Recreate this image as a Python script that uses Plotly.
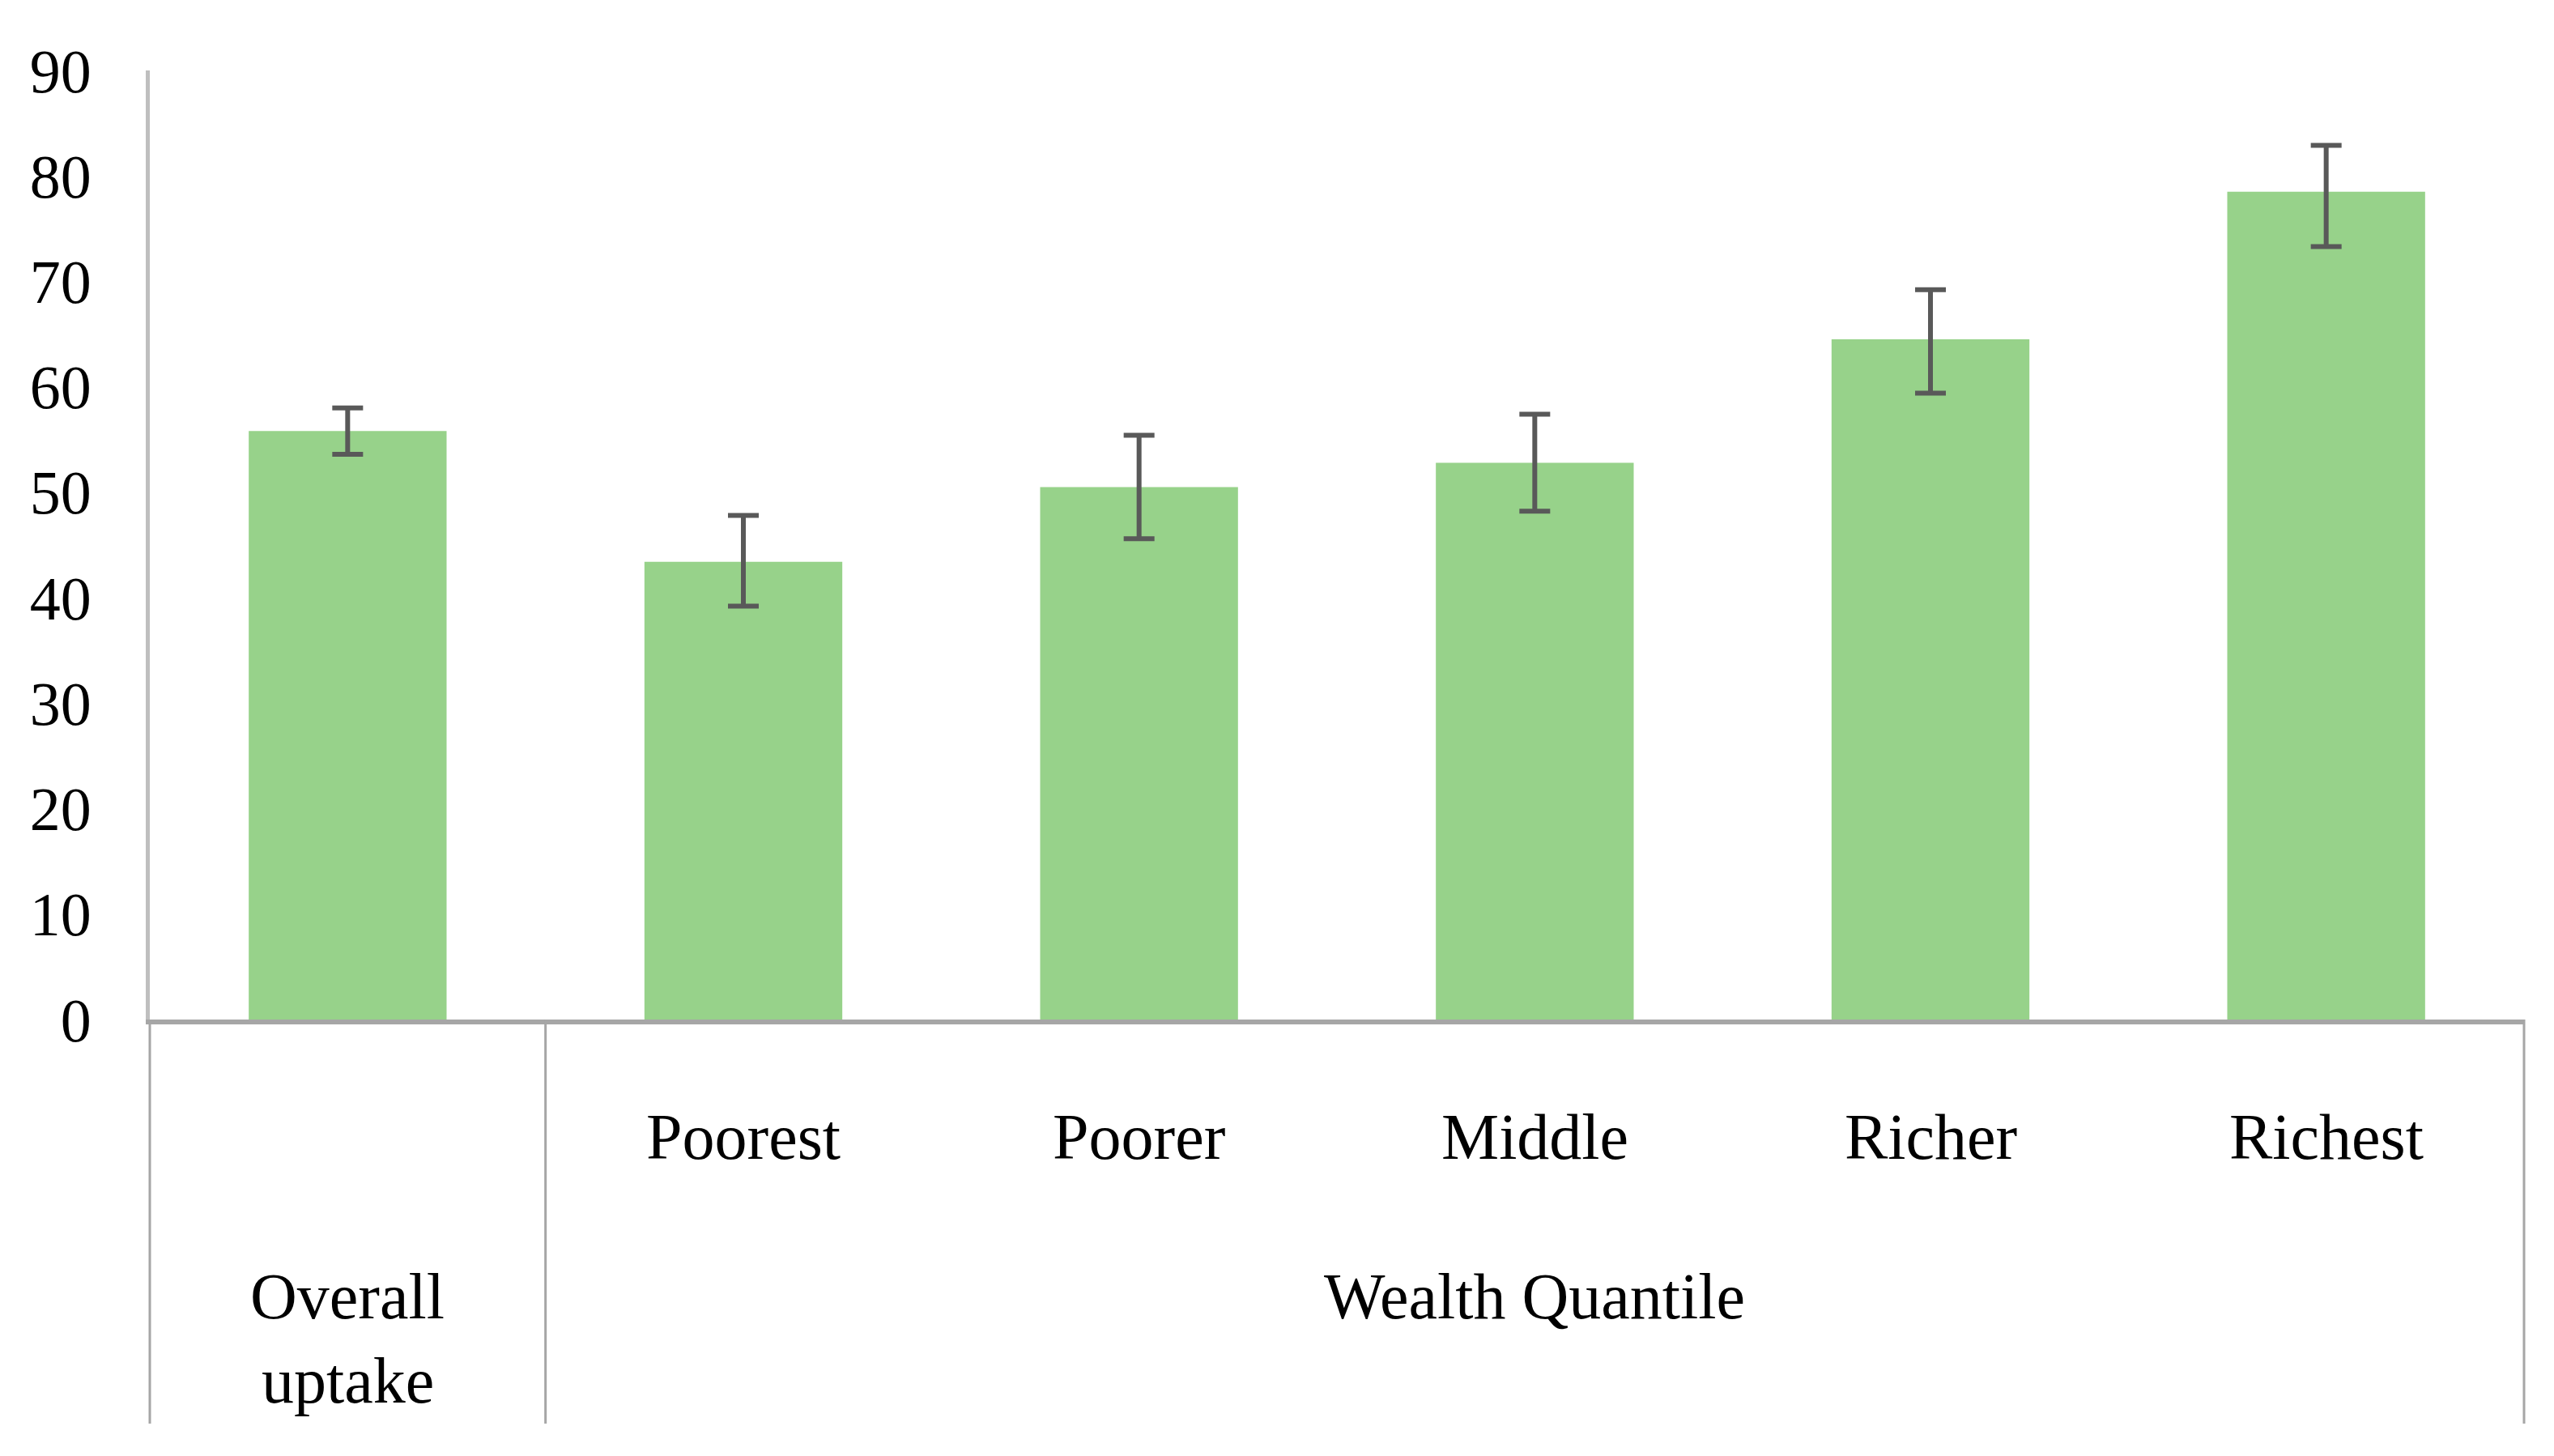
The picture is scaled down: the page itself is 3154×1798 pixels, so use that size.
import plotly.graph_objects as go

# ---- data ----
categories = ["Overall uptake", "Poorest", "Poorer", "Middle", "Richer", "Richest"]
tick_labels = ["", "Poorest", "Poorer", "Middle", "Richer", "Richest"]
uptake = [55.8, 43.4, 50.5, 52.8, 64.5, 78.5]
ci_upper = [58.0, 47.8, 55.4, 57.4, 69.2, 82.9]
ci_lower = [53.6, 39.2, 45.6, 48.2, 59.4, 73.3]
group_labels = ["Overall", "uptake", "Wealth Quantile"]
y_ticks = [0, 10, 20, 30, 40, 50, 60, 70, 80, 90]

err_plus = [u - v for u, v in zip(ci_upper, uptake)]
err_minus = [v - l for v, l in zip(uptake, ci_lower)]

W, H = 3154, 1798
OFF = 8  # page body margin
ML, MR, MT = 185 - OFF, 37 + OFF, 87 - OFF
BASE = 1259 - OFF
MB = H - BASE
plot_h = BASE - MT
FONT = "Liberation Serif"
FS = 80


def py(yfull):
    return -((yfull - OFF) - BASE) / plot_h


fig = go.Figure()
fig.add_trace(go.Bar(
    x=categories, y=uptake, width=0.5,
    marker=dict(color="#97d28a", line=dict(width=0)),
    error_y=dict(type="data", symmetric=False, array=err_plus, arrayminus=err_minus,
                 color="#595959", thickness=6, width=19),
    showlegend=False,
))

# category table lines
line_col = "#a6a6a6"
for xp in [0, 1 / 6, 1]:
    fig.add_shape(type="line", xref="paper", yref="paper", x0=xp, x1=xp,
                  y0=0, y1=py(1758), line=dict(color=line_col, width=3))

tf = dict(family=FONT, size=FS, color="black")
for c, t in zip(categories, tick_labels):
    if t:
        fig.add_annotation(x=c, y=py(1404), xref="x", yref="paper", text=t, showarrow=False,
                           font=tf, yanchor="middle")
fig.add_annotation(x=categories[0], y=py(1601), xref="x", yref="paper", text=group_labels[0],
                   showarrow=False, font=tf, yanchor="middle")
fig.add_annotation(x=categories[0], y=py(1705), xref="x", yref="paper", text=group_labels[1],
                   showarrow=False, font=tf, yanchor="middle")
fig.add_annotation(x=categories[3], y=py(1601), xref="x", yref="paper", text=group_labels[2],
                   showarrow=False, font=tf, yanchor="middle")

fig.update_layout(
    width=W, height=H,
    margin=dict(l=ML, r=MR, t=MT, b=MB, pad=0),
    paper_bgcolor="white", plot_bgcolor="white",
    font=dict(family=FONT, size=76, color="black"),
    bargap=0.5,
    xaxis=dict(showticklabels=False, ticks="", showgrid=False, zeroline=False,
               showline=True, linecolor=line_col, linewidth=6,
               range=[-0.5, 5.5]),
    yaxis=dict(range=[0, 90], tickvals=y_ticks, showgrid=False, zeroline=False,
               showline=True, linecolor="#bfbfbf", linewidth=5, ticks="",
               ticklabelstandoff=52, tickfont=dict(family=FONT, size=76, color="black")),
)

fig.write_html("out.html")
